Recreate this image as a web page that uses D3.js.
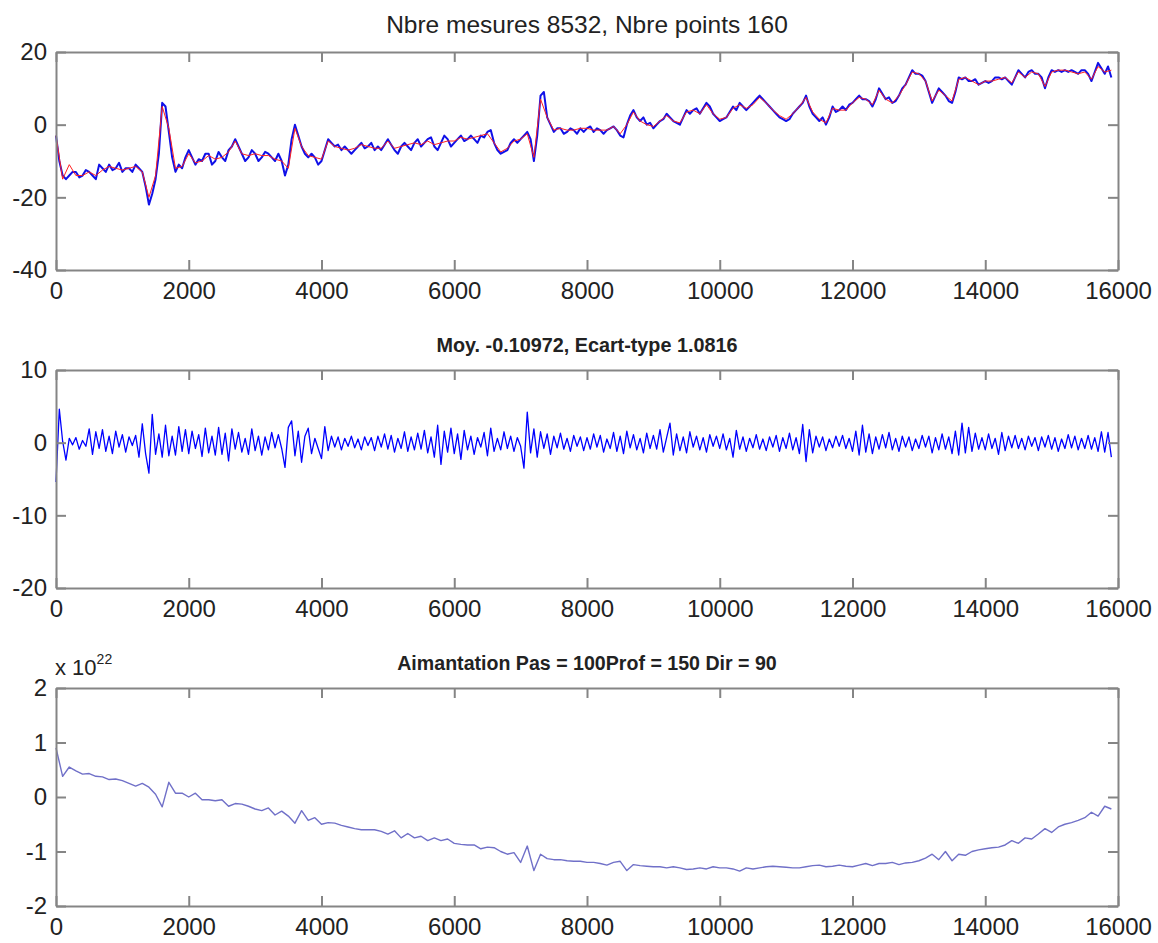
<!DOCTYPE html>
<html>
<head>
<meta charset="utf-8">
<script src="https://cdn.jsdelivr.net/npm/d3@7"></script>
<style>
    body { margin: 0; background: #fff; }
    svg text { font-family: "Liberation Sans", Arial, sans-serif; fill: #222; }
    .axis path, .axis line { stroke: #858585; stroke-width: 2; }
</style>
</head>
<body>
<div id="chart"></div>
<script>

// x sampling (m): measures every 50, computed points every 100 ("Pas = 100")
const mesureStep = 50;
const pointStep = 100;
const xDomain = [0, 16000];
const xTicks = [0, 2000, 4000, 6000, 8000, 10000, 12000, 14000, 16000];

// panel 1 : measured profile (blue) and 160 points (red)
const mesures = [
    -3, -10, -14, -15, -14, -13, -13, -14.5, -14, -12.5,
    -13, -14, -15, -11, -12, -13, -11, -12.5, -12, -10.5,
    -13, -12, -12, -13, -11, -12, -13, -17, -22, -19,
    -15, -8, 6, 5, -2, -9, -13, -11, -12, -9,
    -7, -9, -11, -9.5, -10, -8, -8, -11, -10, -7.5,
    -9, -10, -7, -6, -4, -6, -8, -10, -9, -7,
    -8, -10, -9, -7.5, -8, -9, -10, -8, -10, -14,
    -11, -4, 0, -3, -6, -8, -9, -8, -9, -11,
    -10, -7, -4, -5, -6, -5.5, -7, -6, -7, -8,
    -7, -6, -5, -6.5, -6, -5, -7, -6, -7, -5.5,
    -4, -5.5, -7, -8, -6, -5, -6, -7, -5, -4,
    -6, -5, -4, -3.5, -6, -7, -5, -3, -4, -6,
    -5, -4, -3, -4.5, -4, -3, -4, -5, -3, -3.5,
    -2, -1.5, -5, -7, -8, -7.5, -7, -5, -4, -5,
    -4, -3, -2, -4, -10, -3, 8, 9, 2, 0,
    -2, -1, -1, -2.5, -2, -1, -1.5, -2.5, -1, -2,
    -1, -0.5, -2, -1, -1.5, -2.5, -1.5, -1, -0.5, -1.5,
    -3, -3.5, 0, 2.5, 4, 2, 1, 2, 0, 0.5,
    -1, 0, 1, 1.5, 3, 2, 1, 0.5, 0, 2,
    4, 3, 4, 4.5, 3, 4.5, 6, 5, 3, 2,
    1, 1.5, 2, 3.5, 5, 4, 6, 5, 4, 5,
    6, 7, 8, 7, 6, 5, 4, 3, 2, 1.5,
    1, 1.5, 3, 4, 5, 6, 8, 5, 3, 2,
    1, 2, 0, 2, 5, 3.5, 4, 5, 4, 5.5,
    6, 7, 8, 7, 7, 6.5, 5, 7, 10, 8.5,
    7, 7.5, 6, 6.5, 8, 10, 11, 13, 15, 14,
    14, 13.5, 12, 9, 6, 8, 10, 9, 8, 6.5,
    6, 9, 13, 12.5, 13, 12, 12, 12.5, 11, 11.5,
    12, 11.5, 12, 13, 13, 12.5, 13, 12, 11, 13,
    15, 14, 13, 14.5, 15, 14, 14, 13, 10, 13,
    15, 14.5, 15, 14.5, 15, 14.5, 15, 14.5, 14, 15,
    15, 14, 12, 14.5, 17, 15.5, 14, 16, 13
];

const points = [
    -3, -15, -11, -14, -14, -13, -14, -12.5, -11.5, -12,
    -12.5, -12, -11.5, -13, -20, -14, 5, -1, -12, -11.5,
    -8, -10.5, -10, -8.5, -9.5, -9, -7.5, -4.5, -8, -8.5,
    -8, -8.5, -8.5, -9.5, -10, -12, -1, -6, -8.5, -9,
    -9.5, -4.5, -6, -6.5, -7, -6.5, -5.5, -6, -6.5, -6.5,
    -4.5, -6.5, -6, -5.5, -5, -5.5, -4.5, -5.5, -5, -4.5,
    -4.5, -3.5, -4, -3.5, -3, -2.5, -5, -7.5, -6.5, -4.5,
    -4, -2.5, -9, 7, 2, -1.5, -1, -1.5, -1.5, -1,
    -1, -1.5, -1.5, -1.5, -0.5, -2.5, 0, 3.5, 1, 0,
    -0.5, 1, 2.5, 1, 0.5, 3.5, 4, 3, 5.5, 3,
    1.5, 2, 4.5, 5.5, 4.5, 5.5, 7.5, 6, 4, 2.5,
    1.5, 3, 5, 7.5, 3.5, 1.5, 0.5, 4.5, 4, 4,
    6, 7.5, 7, 5.5, 9.5, 7, 6, 8, 11, 14.5,
    14, 12, 6.5, 9.5, 8, 6.5, 12.5, 13, 12, 11,
    12, 12, 12.5, 13, 11.5, 14.5, 13, 14.5, 14, 10.5,
    14.5, 15, 15, 14.5, 14, 14.5, 12.5, 16, 14.5, 15
];

// panel 2 : residual (measures - points)
const residus = [
    -5.4, 4.6, 0.2, -2.4, 0.6, -0.3, 0.7, -0.9, 0.3, -0.5,
    1.9, -1.6, 1.5, -0.8, 1.8, -1.2, 0.9, -1.5, 1.6, -0.6,
    1.1, -1.3, 0.8, -0.4, 1.0, -2.0, 2.6, -1.5, -4.2, 3.9,
    -1.6, 1.2, -2.0, 2.4, -1.8, 0.9, -1.7, 2.2, -1.2, 1.8,
    -1.5, 1.6, -0.8, 1.1, -1.9, 2.0, -1.4, 0.9, -1.7, 2.1,
    -1.6, 1.3, -2.5, 1.9, -0.9, 1.4, -1.3, 0.6, -1.6, 1.9,
    -1.1, 0.9, -1.7, 0.8, -1.0, 1.4, -0.7, 1.1, -0.8, -3.4,
    2.1, 3.0, -1.8, 1.6, -2.7, 0.9, 2.0, -1.5, 0.6, -0.8,
    -2.2, 2.2, -1.1, 0.9, -0.6, 0.8, -1.0, 0.6, -0.5, 0.9,
    -0.7, 0.5, -1.0, 0.8, -0.4, 0.7, -1.1, 0.9, -0.6, 1.2,
    -0.9, 1.0, -1.3, 0.6, -0.8, 1.5, -1.2, 0.8, -1.0, 1.3,
    -0.9, 1.7, -1.4, 0.8, -2.0, 2.4, -3.0, 1.6, -1.3, 2.0,
    -1.5, 1.2, -2.3, 1.7, -1.0, 0.9, -1.6, 0.7, -0.6, 1.4,
    -1.8, 2.0, -1.2, 0.6, -1.0, 1.5, -0.8, 0.9, -1.2, 0.7,
    -0.5, -3.5, 4.2, -1.4, 1.9, -2.0, 1.5, -0.8, 1.2, -1.6,
    0.9, -0.7, 1.3, -0.9, 0.6, -1.2, 1.0, -0.5, 0.8, -1.1,
    0.7, -0.9, 1.2, -0.6, 1.0, -1.3, 0.5, -0.8, 1.4, -1.2,
    0.9, -1.5, 1.6, -0.7, 1.1, -1.0, 0.6, -1.4, 1.3, -0.8,
    1.0, -0.9, 1.8, -1.3, 0.7, 2.7, -1.7, 1.2, -1.1, 0.8,
    -1.4, 1.5, -0.6, 0.9, -1.0, 0.7, -1.3, 1.1, -0.5, 0.9,
    -0.8, 1.2, -1.0, 0.6, -2.0, 1.7, -0.9, 0.8, -1.2, 0.6,
    -0.7, 1.1, -0.9, 0.5, -1.1, 0.8, -0.6, 1.0, -1.2, 0.7,
    -0.8, 1.3, -1.0, 0.7, -1.5, 2.5, -2.6, 1.8, -1.4, 0.9,
    -0.6, 0.8, -1.1, 0.5, -0.7, 0.9, -0.5, 1.0, -0.8, 0.6,
    -1.2, 1.6, -1.7, 2.4, -1.3, 1.2, -1.5, 0.8, -0.9, 1.1,
    -0.7, 1.4, -1.0, 0.6, -1.2, 0.9, -0.6, 0.8, -1.1, 0.5,
    -0.8, 1.0, -0.6, 0.9, -1.4, 0.7, -1.0, 1.2, -0.9, 0.8,
    -1.5, 1.6, -1.7, 2.7, -1.4, 2.1, -1.2, 1.3, -0.9, 0.7,
    -1.0, 1.2, -0.8, 0.6, -1.6, 1.4, -1.1, 0.9, -0.7, 1.0,
    -0.8, 0.6, -1.0, 0.9, -0.5, 0.7, -1.1, 0.8, -0.6, 1.0,
    -0.9, 0.7, -1.2, 0.5, -0.8, 1.1, -0.7, 0.9, -1.0, 0.6,
    -0.8, 1.0, -0.9, 0.7, -1.2, 1.5, -1.3, 1.4, -2.0
];

// panel 3 : magnetisation (x 10^22)
const aimantation = [
    0.9, 0.38, 0.55, 0.48, 0.42, 0.43, 0.38, 0.37, 0.32, 0.33,
    0.3, 0.25, 0.2, 0.25, 0.18, 0.05, -0.18, 0.27, 0.07, 0.07,
    0.0, 0.07, -0.05, -0.05, -0.07, -0.05, -0.17, -0.12, -0.13, -0.17,
    -0.22, -0.25, -0.2, -0.33, -0.26, -0.35, -0.48, -0.25, -0.43, -0.38,
    -0.5, -0.47, -0.48, -0.52, -0.55, -0.58, -0.6, -0.6, -0.6, -0.63,
    -0.68, -0.62, -0.75, -0.67, -0.75, -0.72, -0.8, -0.75, -0.8, -0.77,
    -0.85, -0.87, -0.88, -0.88, -0.95, -0.92, -0.93, -1.0, -1.05, -1.02,
    -1.2, -0.9, -1.35, -1.05, -1.13, -1.15, -1.15, -1.17, -1.18, -1.18,
    -1.2, -1.2, -1.22, -1.25, -1.2, -1.18, -1.35, -1.24, -1.26, -1.27,
    -1.28, -1.28, -1.3, -1.28, -1.3, -1.33, -1.32, -1.3, -1.32, -1.28,
    -1.3, -1.3, -1.32, -1.36, -1.3, -1.32, -1.3, -1.28, -1.27, -1.28,
    -1.29, -1.3, -1.3, -1.28, -1.26, -1.25, -1.28, -1.27, -1.25, -1.27,
    -1.28, -1.25, -1.22, -1.26, -1.22, -1.22, -1.2, -1.24, -1.21, -1.2,
    -1.17, -1.12, -1.05, -1.15, -1.0, -1.17, -1.05, -1.07, -1.0, -0.97,
    -0.95, -0.93, -0.92, -0.88, -0.8, -0.85, -0.75, -0.77, -0.68, -0.58,
    -0.65, -0.55, -0.5, -0.47, -0.43, -0.38, -0.28, -0.35, -0.17, -0.22
];

const topTicks = [-40, -20, 0, 20];
const midTicks = [-20, -10, 0, 10];
const botTicks = [-2, -1, 0, 1, 2];


/* * * * * * * * * * * * * *
*         PanelVis         *
* * * * * * * * * * * * * */

const svgWidth = 1158, svgHeight = 943;
const margin = {left: 56, right: 40};
const plotWidth = svgWidth - margin.left - margin.right;
const plotHeight = 218;

let svg = d3.select("#chart").append("svg")
    .attr("width", svgWidth)
    .attr("height", svgHeight);

class PanelVis {

    constructor(top, yDomain, yTicks, series, title, titleStyle) {
        this.top = top;
        this.yDomain = yDomain;
        this.yTicks = yTicks;
        this.series = series;
        this.title = title;
        this.titleStyle = titleStyle;

        this.initVis();
    }

    initVis() {
        let vis = this;

        vis.g = svg.append("g")
            .attr("transform", `translate(${margin.left},${vis.top})`);

        vis.x = d3.scaleLinear().domain(xDomain).range([0, plotWidth]);
        vis.y = d3.scaleLinear().domain(vis.yDomain).range([plotHeight, 0]);

        // curves
        vis.series.forEach(s => {
            let line = d3.line()
                .x((d, i) => vis.x(i * s.step))
                .y(d => vis.y(d));

            vis.g.append("path")
                .datum(s.values)
                .attr("d", line)
                .attr("fill", "none")
                .attr("stroke", s.color)
                .attr("stroke-width", s.width)
                .attr("stroke-linejoin", "round");
        });

        // box with inward ticks on all four sides
        let fmt = d => String(d);

        vis.g.append("g").attr("class", "axis")
            .attr("transform", `translate(0,${plotHeight})`)
            .call(d3.axisBottom(vis.x).tickValues(xTicks).tickSize(-10).tickSizeOuter(0).tickPadding(12).tickFormat(fmt));

        vis.g.append("g").attr("class", "axis")
            .call(d3.axisTop(vis.x).tickValues(xTicks).tickSize(-10).tickSizeOuter(0).tickFormat(""));

        vis.g.append("g").attr("class", "axis")
            .call(d3.axisLeft(vis.y).tickValues(vis.yTicks).tickSize(-10).tickSizeOuter(0).tickPadding(9).tickFormat(fmt));

        vis.g.append("g").attr("class", "axis")
            .attr("transform", `translate(${plotWidth},0)`)
            .call(d3.axisRight(vis.y).tickValues(vis.yTicks).tickSize(-10).tickSizeOuter(0).tickFormat(""));

        vis.g.selectAll(".axis")
            .attr("font-family", null)
            .attr("font-size", null);

        vis.g.selectAll(".axis text")
            .style("font-size", "24px")
            .style("fill", "#222");

        // title
        vis.g.append("text")
            .attr("x", plotWidth / 2)
            .attr("y", vis.titleStyle.dy)
            .attr("text-anchor", "middle")
            .style("font-size", vis.titleStyle.size)
            .style("font-weight", vis.titleStyle.weight)
            .text(vis.title);
    }
}

new PanelVis(52, [-40, 20], topTicks, [
    {values: mesures, step: mesureStep, color: "#1010e8", width: 2},
    {values: points, step: pointStep, color: "#ff2020", width: 1}
], "Nbre mesures 8532, Nbre points 160", {dy: -19, size: "24.5px", weight: "normal"});

new PanelVis(370, [-20, 10], midTicks, [
    {values: residus, step: mesureStep, color: "#0000ff", width: 1.3}
], "Moy. -0.10972, Ecart-type 1.0816", {dy: -18, size: "19.8px", weight: "bold"});

let bottom = new PanelVis(688, [-2, 2], botTicks, [
    {values: aimantation, step: pointStep, color: "#7070c8", width: 1.4}
], "Aimantation Pas = 100Prof = 150 Dir = 90", {dy: -18, size: "19.6px", weight: "bold"});

// exponent label of the bottom panel
let expo = bottom.g.append("text")
    .attr("x", -1)
    .attr("y", -13)
    .style("font-size", "22px");
expo.append("tspan").text("x 10");
expo.append("tspan")
    .attr("dy", -11)
    .style("font-size", "14px")
    .text("22");

</script>
</body>
</html>
